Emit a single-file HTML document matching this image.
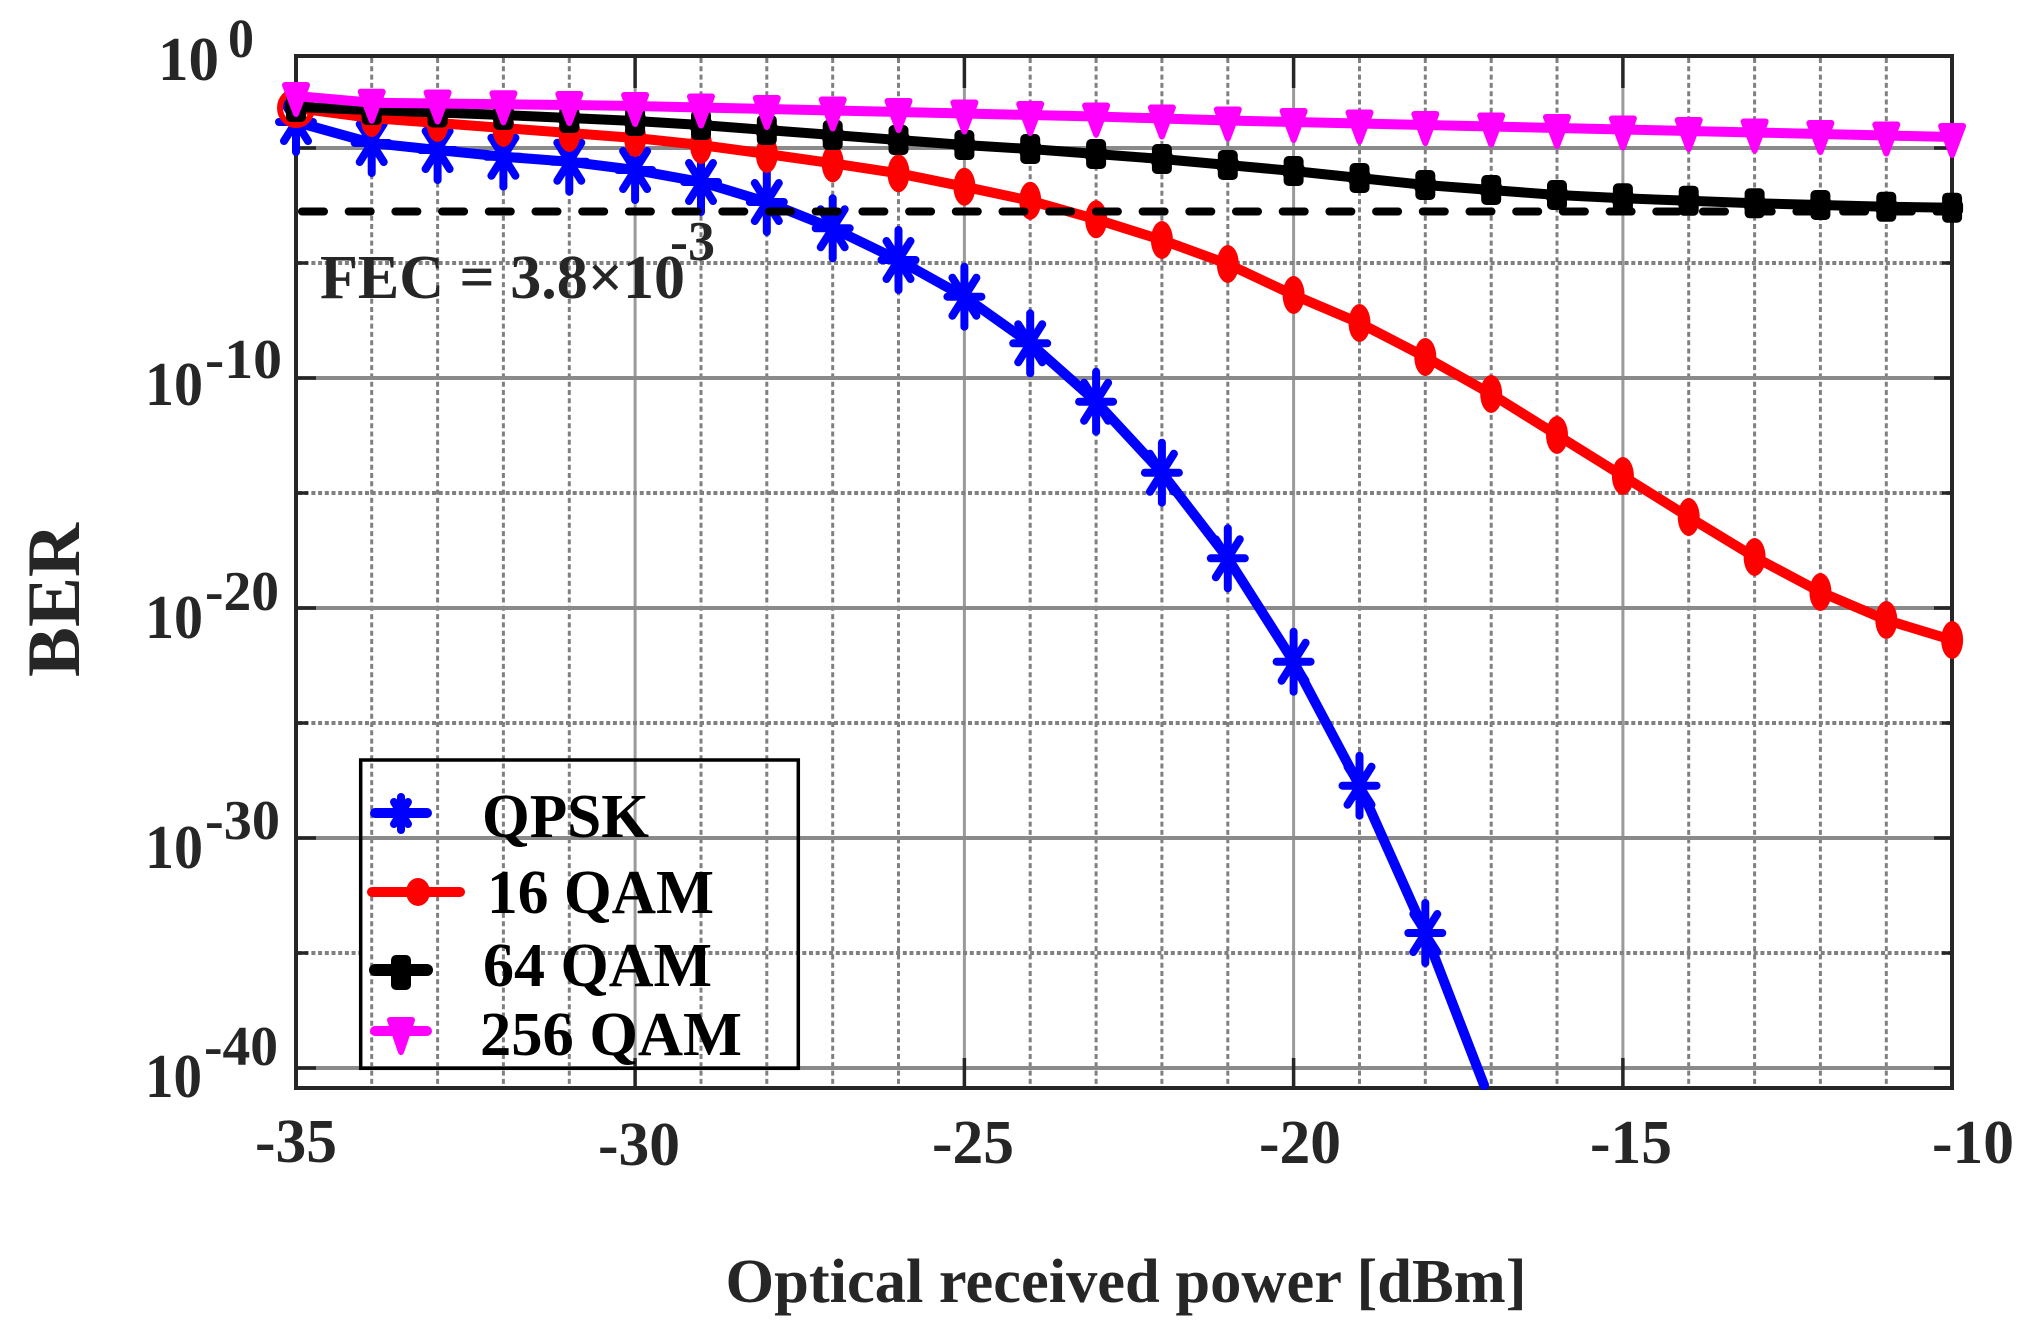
<!DOCTYPE html>
<html>
<head>
<meta charset="utf-8">
<style>
  html, body { margin: 0; padding: 0; background: #ffffff; }
  svg { display: block; }
  text { font-family: "Liberation Serif", "Times New Roman", serif; font-weight: bold; }
</style>
</head>
<body>
<svg width="2020" height="1331" viewBox="0 0 2020 1331" xmlns="http://www.w3.org/2000/svg">
  <defs>
    <g id="ast" stroke="#0000ff" stroke-width="8" stroke-linecap="round">
      <line x1="0" y1="-30" x2="0" y2="30"/>
      <line x1="-17" y1="0" x2="17" y2="0"/>
      <line x1="-12" y1="-19" x2="12" y2="19"/>
      <line x1="12" y1="-19" x2="-12" y2="19"/>
    </g>
    <ellipse id="circ" cx="0" cy="0" rx="11" ry="19" fill="#ff0000"/>
    <g id="plus" fill="#000000">
      <rect x="-10" y="-15" width="20" height="30" rx="5"/>
      <rect x="-11" y="-7" width="22" height="14" rx="4"/>
    </g>
    <path id="tri" d="M-11,-11 L11,-11 L0,18 Z" fill="#ff00ff" stroke="#ff00ff" stroke-width="6" stroke-linejoin="round"/>
  </defs>

  <rect x="0" y="0" width="2020" height="1331" fill="#ffffff"/>

  <!-- vertical minor grid (dashed) -->
  <g stroke="#808080" stroke-width="3" stroke-dasharray="5 3.3">
    <line x1="371.7" y1="58" x2="371.7" y2="1086"/>
    <line x1="437.6" y1="58" x2="437.6" y2="1086"/>
    <line x1="503.4" y1="58" x2="503.4" y2="1086"/>
    <line x1="569.3" y1="58" x2="569.3" y2="1086"/>
    <line x1="701" y1="58" x2="701" y2="1086"/>
    <line x1="766.8" y1="58" x2="766.8" y2="1086"/>
    <line x1="832.7" y1="58" x2="832.7" y2="1086"/>
    <line x1="898.5" y1="58" x2="898.5" y2="1086"/>
    <line x1="1030.2" y1="58" x2="1030.2" y2="1086"/>
    <line x1="1096.1" y1="58" x2="1096.1" y2="1086"/>
    <line x1="1161.9" y1="58" x2="1161.9" y2="1086"/>
    <line x1="1227.8" y1="58" x2="1227.8" y2="1086"/>
    <line x1="1359.5" y1="58" x2="1359.5" y2="1086"/>
    <line x1="1425.3" y1="58" x2="1425.3" y2="1086"/>
    <line x1="1491.2" y1="58" x2="1491.2" y2="1086"/>
    <line x1="1557" y1="58" x2="1557" y2="1086"/>
    <line x1="1688.7" y1="58" x2="1688.7" y2="1086"/>
    <line x1="1754.6" y1="58" x2="1754.6" y2="1086"/>
    <line x1="1820.4" y1="58" x2="1820.4" y2="1086"/>
    <line x1="1886.3" y1="58" x2="1886.3" y2="1086"/>
  </g>
  <!-- vertical major grid (solid) -->
  <g stroke="#9a9a9a" stroke-width="3">
    <line x1="635.1" y1="58" x2="635.1" y2="1086"/>
    <line x1="964.4" y1="58" x2="964.4" y2="1086"/>
    <line x1="1293.6" y1="58" x2="1293.6" y2="1086"/>
    <line x1="1622.9" y1="58" x2="1622.9" y2="1086"/>
  </g>
  <!-- horizontal minor grid (dotted) -->
  <g stroke="#808080" stroke-width="4" stroke-dasharray="4 2.7">
    <line x1="298" y1="263" x2="1950" y2="263"/>
    <line x1="298" y1="493" x2="1950" y2="493"/>
    <line x1="298" y1="723" x2="1950" y2="723"/>
    <line x1="298" y1="953" x2="360" y2="953"/>
    <line x1="541" y1="953" x2="1950" y2="953"/>
  </g>
  <!-- horizontal major grid (solid) -->
  <g stroke="#8a8a8a" stroke-width="4">
    <line x1="298" y1="148" x2="1950" y2="148"/>
    <line x1="298" y1="378" x2="1950" y2="378"/>
    <line x1="298" y1="608" x2="1950" y2="608"/>
    <line x1="298" y1="838" x2="1950" y2="838"/>
    <line x1="298" y1="1068" x2="1950" y2="1068"/>
  </g>

  <!-- axes box -->
  <g stroke="#262626" stroke-width="4" fill="none">
    <rect x="296" y="56" width="1656" height="1032"/>
  </g>
  <!-- ticks -->
  <g stroke="#262626" stroke-width="3.5">
    <line x1="635.1" y1="56" x2="635.1" y2="88"/>
    <line x1="964.4" y1="56" x2="964.4" y2="88"/>
    <line x1="1293.6" y1="56" x2="1293.6" y2="88"/>
    <line x1="1622.9" y1="56" x2="1622.9" y2="88"/>
    <line x1="635.1" y1="1088" x2="635.1" y2="1058"/>
    <line x1="964.4" y1="1088" x2="964.4" y2="1058"/>
    <line x1="1293.6" y1="1088" x2="1293.6" y2="1058"/>
    <line x1="1622.9" y1="1088" x2="1622.9" y2="1058"/>
    <line x1="296" y1="148" x2="316" y2="148"/>
    <line x1="296" y1="378" x2="316" y2="378"/>
    <line x1="296" y1="608" x2="316" y2="608"/>
    <line x1="296" y1="838" x2="316" y2="838"/>
    <line x1="296" y1="1068" x2="316" y2="1068"/>
    <line x1="296" y1="263" x2="308" y2="263"/>
    <line x1="296" y1="493" x2="308" y2="493"/>
    <line x1="296" y1="723" x2="308" y2="723"/>
    <line x1="296" y1="953" x2="308" y2="953"/>
    <line x1="1952" y1="148" x2="1934" y2="148"/>
    <line x1="1952" y1="378" x2="1934" y2="378"/>
    <line x1="1952" y1="608" x2="1934" y2="608"/>
    <line x1="1952" y1="838" x2="1934" y2="838"/>
    <line x1="1952" y1="1068" x2="1934" y2="1068"/>
    <line x1="1952" y1="263" x2="1942" y2="263"/>
    <line x1="1952" y1="493" x2="1942" y2="493"/>
    <line x1="1952" y1="723" x2="1942" y2="723"/>
    <line x1="1952" y1="953" x2="1942" y2="953"/>
  </g>

  <!-- QPSK -->
  <polyline fill="none" stroke="#0000ff" stroke-width="10" stroke-linejoin="round" stroke-linecap="round"
    points="296,122 371.7,143 437.6,150 503.4,156.7 569.3,161.7 635.1,170 701,182 766.8,202 832.7,228.3 898.5,260 964.4,296.7 1030.2,343.3 1096.1,401.7 1161.9,472.7 1227.8,558.3 1293.6,661.7 1359.5,785.7 1425.3,933 1484,1085"/>
  <use href="#ast" x="296" y="122"/>
  <use href="#ast" x="371.7" y="143"/>
  <use href="#ast" x="437.6" y="150"/>
  <use href="#ast" x="503.4" y="156.7"/>
  <use href="#ast" x="569.3" y="161.7"/>
  <use href="#ast" x="635.1" y="170"/>
  <use href="#ast" x="701" y="182"/>
  <use href="#ast" x="766.8" y="202"/>
  <use href="#ast" x="832.7" y="228.3"/>
  <use href="#ast" x="898.5" y="260"/>
  <use href="#ast" x="964.4" y="296.7"/>
  <use href="#ast" x="1030.2" y="343.3"/>
  <use href="#ast" x="1096.1" y="401.7"/>
  <use href="#ast" x="1161.9" y="472.7"/>
  <use href="#ast" x="1227.8" y="558.3"/>
  <use href="#ast" x="1293.6" y="661.7"/>
  <use href="#ast" x="1359.5" y="785.7"/>
  <use href="#ast" x="1425.3" y="933"/>

  <!-- 16 QAM -->
  <polyline fill="none" stroke="#ff0000" stroke-width="10" stroke-linejoin="round"
    points="296,108 371.7,118 437.6,123 503.4,128 569.3,133 635.1,138 701,145 766.8,154 832.7,163.3 898.5,173.3 964.4,186.7 1030.2,200.7 1096.1,219.3 1161.9,240 1227.8,264 1293.6,295 1359.5,323 1425.3,357 1491.2,394 1557,435 1622.9,476 1688.7,517 1754.6,557 1820.4,592 1886.3,620 1952.1,640"/>
  <ellipse cx="296" cy="108" rx="16" ry="17" fill="none" stroke="#ff0000" stroke-width="6"/>
  <use href="#circ" x="371.7" y="118"/>
  <use href="#circ" x="437.6" y="123"/>
  <use href="#circ" x="503.4" y="128"/>
  <use href="#circ" x="569.3" y="133"/>
  <use href="#circ" x="635.1" y="138"/>
  <use href="#circ" x="701" y="145"/>
  <use href="#circ" x="766.8" y="154"/>
  <use href="#circ" x="832.7" y="163.3"/>
  <use href="#circ" x="898.5" y="173.3"/>
  <use href="#circ" x="964.4" y="186.7"/>
  <use href="#circ" x="1030.2" y="200.7"/>
  <use href="#circ" x="1096.1" y="219.3"/>
  <use href="#circ" x="1161.9" y="240"/>
  <use href="#circ" x="1227.8" y="264"/>
  <use href="#circ" x="1293.6" y="295"/>
  <use href="#circ" x="1359.5" y="323"/>
  <use href="#circ" x="1425.3" y="357"/>
  <use href="#circ" x="1491.2" y="394"/>
  <use href="#circ" x="1557" y="435"/>
  <use href="#circ" x="1622.9" y="476"/>
  <use href="#circ" x="1688.7" y="517"/>
  <use href="#circ" x="1754.6" y="557"/>
  <use href="#circ" x="1820.4" y="592"/>
  <use href="#circ" x="1886.3" y="620"/>
  <use href="#circ" x="1952.1" y="640"/>

  <!-- 64 QAM -->
  <polyline fill="none" stroke="#000000" stroke-width="10" stroke-linejoin="round"
    points="296,107 371.7,110 437.6,112.5 503.4,115 569.3,118 635.1,121 701,125 766.8,130 832.7,135 898.5,140 964.4,145 1030.2,149 1096.1,154 1161.9,159 1227.8,165 1293.6,171 1359.5,178 1425.3,185 1491.2,190 1557,195 1622.9,198.3 1688.7,200.7 1754.6,203.3 1820.4,205 1886.3,206.7 1952.1,207.7"/>
  <use href="#plus" x="296" y="107"/>
  <use href="#plus" x="371.7" y="110"/>
  <use href="#plus" x="437.6" y="112.5"/>
  <use href="#plus" x="503.4" y="115"/>
  <use href="#plus" x="569.3" y="118"/>
  <use href="#plus" x="635.1" y="121"/>
  <use href="#plus" x="701" y="125"/>
  <use href="#plus" x="766.8" y="130"/>
  <use href="#plus" x="832.7" y="135"/>
  <use href="#plus" x="898.5" y="140"/>
  <use href="#plus" x="964.4" y="145"/>
  <use href="#plus" x="1030.2" y="149"/>
  <use href="#plus" x="1096.1" y="154"/>
  <use href="#plus" x="1161.9" y="159"/>
  <use href="#plus" x="1227.8" y="165"/>
  <use href="#plus" x="1293.6" y="171"/>
  <use href="#plus" x="1359.5" y="178"/>
  <use href="#plus" x="1425.3" y="185"/>
  <use href="#plus" x="1491.2" y="190"/>
  <use href="#plus" x="1557" y="195"/>
  <use href="#plus" x="1622.9" y="198.3"/>
  <use href="#plus" x="1688.7" y="200.7"/>
  <use href="#plus" x="1754.6" y="203.3"/>
  <use href="#plus" x="1820.4" y="205"/>
  <use href="#plus" x="1886.3" y="206.7"/>
  <use href="#plus" x="1952.1" y="207.7"/>

  <!-- 256 QAM -->
  <polyline fill="none" stroke="#ff00ff" stroke-width="10" stroke-linejoin="round"
    points="296,96 371.7,102.7 437.6,103.5 503.4,104.3 569.3,105 635.1,106 701,107.5 766.8,109 832.7,110.5 898.5,112 964.4,113.5 1030.2,115 1096.1,116.5 1161.9,118.5 1227.8,120.5 1293.6,122 1359.5,123.5 1425.3,125 1491.2,126.5 1557,128 1622.9,129.5 1688.7,131 1754.6,132.5 1820.4,134 1886.3,135.5 1952.1,137"/>
  <use href="#tri" x="296" y="96"/>
  <use href="#tri" x="371.7" y="102.7"/>
  <use href="#tri" x="437.6" y="103.5"/>
  <use href="#tri" x="503.4" y="104.3"/>
  <use href="#tri" x="569.3" y="105"/>
  <use href="#tri" x="635.1" y="106"/>
  <use href="#tri" x="701" y="107.5"/>
  <use href="#tri" x="766.8" y="109"/>
  <use href="#tri" x="832.7" y="110.5"/>
  <use href="#tri" x="898.5" y="112"/>
  <use href="#tri" x="964.4" y="113.5"/>
  <use href="#tri" x="1030.2" y="115"/>
  <use href="#tri" x="1096.1" y="116.5"/>
  <use href="#tri" x="1161.9" y="118.5"/>
  <use href="#tri" x="1227.8" y="120.5"/>
  <use href="#tri" x="1293.6" y="122"/>
  <use href="#tri" x="1359.5" y="123.5"/>
  <use href="#tri" x="1425.3" y="125"/>
  <use href="#tri" x="1491.2" y="126.5"/>
  <use href="#tri" x="1557" y="128"/>
  <use href="#tri" x="1622.9" y="129.5"/>
  <use href="#tri" x="1688.7" y="131"/>
  <use href="#tri" x="1754.6" y="132.5"/>
  <use href="#tri" x="1820.4" y="134"/>
  <use href="#tri" x="1886.3" y="135.5"/>
  <use href="#tri" x="1952.1" y="137"/>

  <!-- FEC dashed line -->
  <line x1="302" y1="211.5" x2="1948" y2="211.5" stroke="#000000" stroke-width="8" stroke-linecap="round" stroke-dasharray="22 24.7"/>

  <!-- FEC label -->
  <text x="320" y="298" font-size="62" fill="#262626" textLength="365" lengthAdjust="spacingAndGlyphs">FEC = 3.8×10</text>
  <text x="670" y="260" font-size="56" fill="#262626" textLength="45" lengthAdjust="spacingAndGlyphs">-3</text>

  <!-- Y tick labels -->
  <g fill="#262626">
    <text x="158" y="80" font-size="62" textLength="61" lengthAdjust="spacingAndGlyphs">10</text>
    <text x="228" y="57" font-size="55" textLength="26" lengthAdjust="spacingAndGlyphs">0</text>

    <text x="145" y="405" font-size="62" textLength="58" lengthAdjust="spacingAndGlyphs">10</text>
    <text x="205" y="378" font-size="56" textLength="77" lengthAdjust="spacingAndGlyphs">-10</text>

    <text x="145" y="638" font-size="62" textLength="58" lengthAdjust="spacingAndGlyphs">10</text>
    <text x="205" y="610" font-size="56" textLength="74" lengthAdjust="spacingAndGlyphs">-20</text>

    <text x="145" y="868" font-size="62" textLength="58" lengthAdjust="spacingAndGlyphs">10</text>
    <text x="205" y="839" font-size="56" textLength="75" lengthAdjust="spacingAndGlyphs">-30</text>

    <text x="145" y="1097" font-size="62" textLength="57" lengthAdjust="spacingAndGlyphs">10</text>
    <text x="204" y="1065" font-size="56" textLength="74" lengthAdjust="spacingAndGlyphs">-40</text>
  </g>

  <!-- X tick labels -->
  <g fill="#262626" font-size="62" text-anchor="middle">
    <text x="296" y="1162" textLength="82" lengthAdjust="spacingAndGlyphs">-35</text>
    <text x="639" y="1165" textLength="82" lengthAdjust="spacingAndGlyphs">-30</text>
    <text x="973" y="1163" textLength="82" lengthAdjust="spacingAndGlyphs">-25</text>
    <text x="1300" y="1163" textLength="82" lengthAdjust="spacingAndGlyphs">-20</text>
    <text x="1631" y="1163" textLength="82" lengthAdjust="spacingAndGlyphs">-15</text>
    <text x="1973" y="1163" textLength="82" lengthAdjust="spacingAndGlyphs">-10</text>
  </g>

  <!-- Axis labels -->
  <text x="1126" y="1302" font-size="62" fill="#262626" text-anchor="middle" textLength="801" lengthAdjust="spacingAndGlyphs">Optical received power [dBm]</text>
  <text transform="translate(79,600) rotate(-90)" x="0" y="0" font-size="75" fill="#262626" text-anchor="middle" textLength="154" lengthAdjust="spacingAndGlyphs">BER</text>

  <!-- Legend -->
  <rect x="360.7" y="760" width="437.6" height="308.3" fill="none" stroke="#000000" stroke-width="3.5"/>
  <!-- QPSK entry -->
  <line x1="375" y1="813" x2="427" y2="813" stroke="#0000ff" stroke-width="10" stroke-linecap="round"/>
  <g stroke="#0000ff" stroke-width="8" stroke-linecap="round">
    <line x1="401" y1="797" x2="401" y2="830"/>
    <line x1="394" y1="802" x2="408" y2="824"/>
    <line x1="408" y1="802" x2="394" y2="824"/>
  </g>
  <!-- 16 QAM entry -->
  <line x1="372" y1="892" x2="460" y2="892" stroke="#ff0000" stroke-width="10" stroke-linecap="round"/>
  <ellipse cx="418" cy="892" rx="12" ry="14" fill="#ff0000"/>
  <!-- 64 QAM entry -->
  <line x1="375" y1="970" x2="427" y2="970" stroke="#000000" stroke-width="12" stroke-linecap="round"/>
  <rect x="391" y="955" width="20" height="35" rx="5" fill="#000000"/>
  <!-- 256 QAM entry -->
  <line x1="375" y1="1031" x2="427" y2="1031" stroke="#ff00ff" stroke-width="10" stroke-linecap="round"/>
  <path d="M390,1020 L412,1020 L401,1052 Z" fill="#ff00ff" stroke="#ff00ff" stroke-width="6" stroke-linejoin="round"/>

  <g fill="#000000" font-size="62">
    <text x="482" y="837" textLength="167" lengthAdjust="spacingAndGlyphs">QPSK</text>
    <text x="487" y="913" textLength="227" lengthAdjust="spacingAndGlyphs">16 QAM</text>
    <text x="483" y="986" textLength="229" lengthAdjust="spacingAndGlyphs">64 QAM</text>
    <text x="480" y="1055" textLength="262" lengthAdjust="spacingAndGlyphs">256 QAM</text>
  </g>
</svg>
</body>
</html>
